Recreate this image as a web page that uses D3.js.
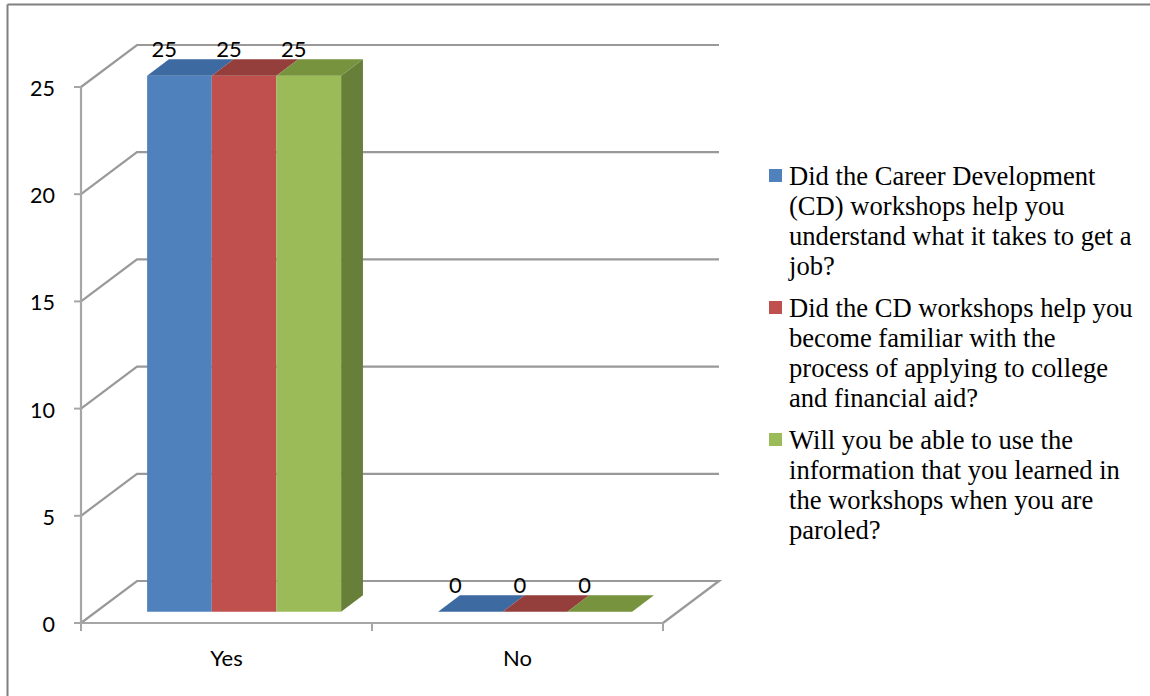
<!DOCTYPE html>
<html>
<head>
<meta charset="utf-8">
<script src="https://cdn.jsdelivr.net/npm/d3@7"></script>
<style>
  html, body { margin: 0; padding: 0; background: #fff; }
  svg { display: block; }
</style>
</head>
<body>
<svg id="chart" width="1150" height="696"></svg>
<script>
// ---- data ----
const categories = ["Yes", "No"];
const seriesNames = [
  "Did the Career Development (CD) workshops help you understand what it takes to get a job?",
  "Did the CD workshops help you become familiar with the process of applying to college and financial aid?",
  "Will you be able to use the information that you learned in the workshops when you are paroled?"
];
const legendLines = [
  ["Did the Career Development", "(CD) workshops help you", "understand what it takes to get a", "job?"],
  ["Did the CD workshops help you", "become familiar with the", "process of applying to college", "and financial aid?"],
  ["Will you be able to use the", "information that you learned in", "the workshops when you are", "paroled?"]
];
const seriesYes = [25, 25, 25];
const seriesNo = [0, 0, 0];
const yTicks = [0, 5, 10, 15, 20, 25];

const values = seriesNames.map((s, i) => ({ name: s, values: [seriesYes[i], seriesNo[i]] }));

// ---- styles ----
const frontColors = ["#4F81BD", "#C0504D", "#9BBB59"];
const topColors = ["#3D6AA1", "#953F3C", "#77933D"];
const sideColors = ["#3A6190", "#873A37", "#677F38"];
const gridColor = "#999999";
const sansFont = "Lato, 'Open Sans', sans-serif";

const svg = d3.select("#chart");

// frame
svg.append("line").attr("x1", 7.5).attr("y1", 4.5).attr("x2", 1150).attr("y2", 4.5)
  .attr("stroke", "#808080").attr("stroke-width", 2);
svg.append("line").attr("x1", 7.5).attr("y1", 4.5).attr("x2", 7.5).attr("y2", 696)
  .attr("stroke", "#808080").attr("stroke-width", 2);

// scales
const y = d3.scaleLinear().domain([0, 25]).range([623, 87]);
const x = d3.scaleBand().domain(categories).range([81, 663]).padding(0);
const DX = 56, DY = -42;   // depth offset of the back wall
const zFront = 0.27, zBack = 0.66;

function proj(px, v, z) { return [px + z * DX, y(v) + z * DY]; }

const grid = svg.append("g");
yTicks.forEach(t => {
  if (t === 0) return;
  const p0 = [81, y(t)];
  const p1 = proj(81, t, 1);
  const p2 = proj(663, t, 1);
  grid.append("polyline")
    .attr("points", [p0, p1, p2].map(p => p.join(",")).join(" "))
    .attr("fill", "none").attr("stroke", gridColor).attr("stroke-width", 2.2);
});
{
  const a = [81, y(0)], b = proj(81, 0, 1), c = proj(663, 0, 1), d = [663, y(0)];
  grid.append("polyline")
    .attr("points", [a, b, c, d].map(p => p.join(",")).join(" "))
    .attr("fill", "none").attr("stroke", gridColor).attr("stroke-width", 2.2);
}

// axes (front)
const axisColor = "#A6A6A6";
svg.append("line").attr("x1", 81).attr("x2", 81).attr("y1", y(25)).attr("y2", y(0))
  .attr("stroke", axisColor).attr("stroke-width", 2.2);
svg.append("line").attr("x1", 81).attr("x2", 663).attr("y1", y(0)).attr("y2", y(0))
  .attr("stroke", axisColor).attr("stroke-width", 2.2);
yTicks.forEach(t => {
  svg.append("line").attr("x1", 74).attr("x2", 81).attr("y1", y(t)).attr("y2", y(t))
    .attr("stroke", axisColor).attr("stroke-width", 2);
  svg.append("text").attr("x", 55).attr("y", y(t) + 9)
    .attr("text-anchor", "end").attr("font-family", sansFont)
    .attr("font-size", 21.5).attr("fill", "#000").text(t);
});
[x("Yes"), x("No"), x("No") + x.bandwidth()].forEach(px => {
  svg.append("line").attr("x1", px).attr("x2", px).attr("y1", y(0)).attr("y2", y(0) + 8)
    .attr("stroke", axisColor).attr("stroke-width", 2);
});
categories.forEach(c => {
  svg.append("text").attr("x", x(c) + x.bandwidth() / 2).attr("y", 666)
    .attr("text-anchor", "middle").attr("font-family", sansFont)
    .attr("font-size", 22).attr("fill", "#000").text(c);
});

// bars
const inner = d3.scaleBand().domain(d3.range(seriesNames.length))
  .range([51, 51 + 194]).padding(0);

const bars = svg.append("g");
const poly = pts => pts.map(p => p.join(",")).join(" ");
categories.forEach((c, ci) => {
  values.forEach((s, si) => {
    const v = s.values[ci];
    const x0 = x(c) + inner(si), x1 = x0 + inner.bandwidth();
    const fbl = proj(x0, 0, zFront), fbr = proj(x1, 0, zFront);
    const ftl = proj(x0, v, zFront), ftr = proj(x1, v, zFront);
    const btl = proj(x0, v, zBack), btr = proj(x1, v, zBack);
    const bbr = proj(x1, 0, zBack);
    if (v > 0) {
      if (si === seriesNames.length - 1) {
        bars.append("polygon").attr("points", poly([fbr, ftr, btr, bbr]))
          .attr("fill", sideColors[si]);
      }
      bars.append("polygon").attr("points", poly([fbl, fbr, ftr, ftl]))
        .attr("fill", frontColors[si]);
    }
    bars.append("polygon").attr("points", poly([ftl, ftr, btr, btl]))
      .attr("fill", topColors[si]);
  });
});

// value labels
categories.forEach((c, ci) => {
  values.forEach((s, si) => {
    const v = s.values[ci];
    const cx = x(c) + inner(si) + inner.bandwidth() / 2;
    const p = proj(cx, v, zBack);
    svg.append("text").attr("x", cx).attr("y", p[1] - 2.5)
      .attr("text-anchor", "middle").attr("font-family", sansFont)
      .attr("font-size", 22).attr("fill", "#000").text(v);
  });
});

// legend
const legend = svg.append("g");
const legTop = [185, 317, 449];
legendLines.forEach((lines, i) => {
  legend.append("rect").attr("x", 769).attr("y", legTop[i] - 16).attr("width", 13).attr("height", 13)
    .attr("fill", frontColors[i]);
  const t = legend.append("text").attr("font-family", "'Liberation Serif', 'Times New Roman', serif")
    .attr("font-size", 26.6).attr("fill", "#000");
  lines.forEach((ln, j) => {
    t.append("tspan").attr("x", 789).attr("y", legTop[i] + j * 30).text(ln);
  });
});
</script>
</body>
</html>
